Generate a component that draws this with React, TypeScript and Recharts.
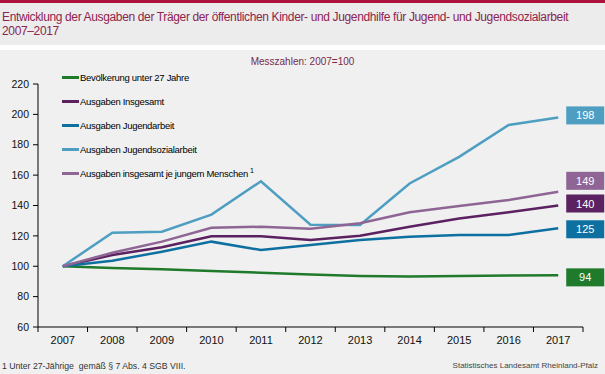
import React from "react";
import { LineChart, Line, XAxis, YAxis, Legend, LabelList } from "recharts";

// Messzahlen 2007 = 100
const years = [2007, 2008, 2009, 2010, 2011, 2012, 2013, 2014, 2015, 2016, 2017];
const bevoelkerung = [100, 98.9, 98.0, 96.9, 95.8, 94.5, 93.6, 93.3, 93.5, 93.9, 94];
const ausgabenInsgesamt = [100, 107.4, 112.5, 119.8, 119.8, 117.3, 120.1, 126, 131.4, 135.5, 140];
const ausgabenJugendarbeit = [100, 103.6, 109.6, 116.2, 110.7, 114, 117.3, 119.5, 120.6, 120.6, 125];
const ausgabenJugendsozialarbeit = [100, 122.1, 122.7, 134, 156, 127.4, 127.2, 154.5, 172, 193, 198];
const ausgabenJeJungemMenschen = [100, 108.9, 116.2, 125.3, 126, 124.7, 128.3, 135.5, 139.6, 143.6, 149];
const yTicks = [60, 80, 100, 120, 140, 160, 180, 200, 220];

const W = 605;
const H = 374;
const X_AXIS_H = 30;
const M = { top: 84, right: 22, bottom: 374 - 327 - X_AXIS_H, left: 0 };
const Y_AXIS_W = 38;
const HALF_BAND = (W - M.right - Y_AXIS_W) / years.length / 2;

const series = [
  { key: "bev", name: "Bevölkerung unter 27 Jahre", color: "#1f7a2c", values: bevoelkerung, nudge: 2 },
  { key: "ges", name: "Ausgaben Insgesamt", color: "#5b2160", values: ausgabenInsgesamt, nudge: -2 },
  { key: "ja", name: "Ausgaben Jugendarbeit", color: "#0e70a0", values: ausgabenJugendarbeit, nudge: 1 },
  { key: "jsa", name: "Ausgaben Jugendsozialarbeit", color: "#4e9ec2", values: ausgabenJugendsozialarbeit, nudge: -2 },
  { key: "jm", name: "Ausgaben insgesamt je jungem Menschen", color: "#8f6595", values: ausgabenJeJungemMenschen, nudge: -11, sup: "1" },
];

const data = years.map((year, i) => {
  const row: Record<string, number> = { year };
  series.forEach((s) => (row[s.key] = s.values[i]));
  return row;
});

const font = "Arial, 'Liberation Sans', sans-serif";

// x ticks: label at the year, tick marks at the band borders
const YearTick = (props: any) => {
  const { x, y, payload, index } = props;
  return (
    <g>
      <line x1={x - HALF_BAND} x2={x - HALF_BAND} y1={y} y2={y + 5} stroke="#000" />
      {index === years.length - 1 && (
        <line x1={x + HALF_BAND} x2={x + HALF_BAND} y1={y} y2={y + 5} stroke="#000" />
      )}
      <text x={x} y={y + 17} textAnchor="middle" fontSize={11} fill="#111" fontFamily={font}>
        {payload.value}
      </text>
    </g>
  );
};

// value box at the end of each line
const endLabel = (color: string, nudge: number) => (props: any) => {
  const { x, y, value, index } = props;
  if (index !== years.length - 1) return null;
  const cy = y + nudge;
  return (
    <g>
      <rect x={x + 8} y={cy - 9} width={38} height={18} fill={color} />
      <text x={x + 27} y={cy + 4} textAnchor="middle" fontSize={11} fill="#fff" fontFamily={font}>
        {Math.round(value)}
      </text>
    </g>
  );
};

const LegendBox = () => (
  <div style={{ fontFamily: font, fontSize: 9.5, color: "#000", letterSpacing: -0.3 }}>
    {series.map((s) => (
      <div key={s.key} style={{ display: "flex", alignItems: "center", height: 24 }}>
        <span style={{ display: "inline-block", width: 17, height: 3, background: s.color, marginRight: 1 }} />
        <span>
          {s.name}
          {s.sup && <sup style={{ fontSize: 7, marginLeft: 2 }}>{s.sup}</sup>}
        </span>
      </div>
    ))}
  </div>
);

export default function App() {
  return (
    <div style={{ position: "absolute", left: 0, top: 0, width: W, height: H, background: "#eff0ef", fontFamily: font, overflow: "hidden" }}>
      <div style={{ position: "absolute", left: 0, top: 0, width: W, height: 3, background: "#b0123f" }} />
      <div style={{ position: "absolute", left: 0, top: 3, width: W, height: 42, background: "#ebeceb" }} />
      <div style={{ position: "absolute", left: 0, top: 45, width: W, height: 5, background: "#fff" }} />
      <div style={{ position: "absolute", left: 2, top: 10, width: 603, fontSize: 12, lineHeight: "14px", color: "#8e2350", letterSpacing: -0.36, whiteSpace: "nowrap" }}>
        Entwicklung der Ausgaben der Träger der öffentlichen Kinder- und Jugendhilfe für Jugend- und Jugendsozialarbeit
        <br />
        2007–2017
      </div>
      <div style={{ position: "absolute", left: 0, top: 56, width: W, textAlign: "center", fontSize: 10, color: "#7a2a4a" }}>
        Messzahlen: 2007=100
      </div>

      <div style={{ position: "absolute", left: 0, top: 0 }}>
        <LineChart width={W} height={H} data={data} margin={M}>
          <XAxis
            dataKey="year"
            type="number"
            domain={[2006.5, 2017.5]}
            ticks={years}
            tickLine={false}
            tickSize={0}
            tickMargin={0}
            axisLine={{ stroke: "#000" }}
            tick={<YearTick />}
            height={X_AXIS_H}
          />
          <YAxis
            domain={[60, 220]}
            ticks={yTicks}
            width={Y_AXIS_W}
            tickSize={5}
            tickMargin={4}
            axisLine={{ stroke: "#000" }}
            tickLine={{ stroke: "#000" }}
            tick={{ fontSize: 10.5, fill: "#111", fontFamily: font }}
          />
          <Legend
            layout="horizontal"
            align="center"
            verticalAlign="middle"
            wrapperStyle={{ left: 62, top: 65, width: 260 }}
            content={<LegendBox />}
          />
          {series.map((s) => (
            <Line
              key={s.key}
              dataKey={s.key}
              name={s.name}
              stroke={s.color}
              strokeWidth={2.5}
              dot={false}
              activeDot={false}
              type="linear"
              isAnimationActive={false}
            >
              <LabelList dataKey={s.key} content={endLabel(s.color, s.nudge)} />
            </Line>
          ))}
        </LineChart>
      </div>

      <div style={{ position: "absolute", left: 2, top: 361, fontSize: 8.7, color: "#333" }}>
        1 Unter 27-Jährige&nbsp; gemäß § 7 Abs. 4 SGB VIII.
      </div>
      <div style={{ position: "absolute", right: 7, top: 361, fontSize: 8, color: "#444" }}>
        Statistisches Landesamt Rheinland-Pfalz
      </div>
    </div>
  );
}
